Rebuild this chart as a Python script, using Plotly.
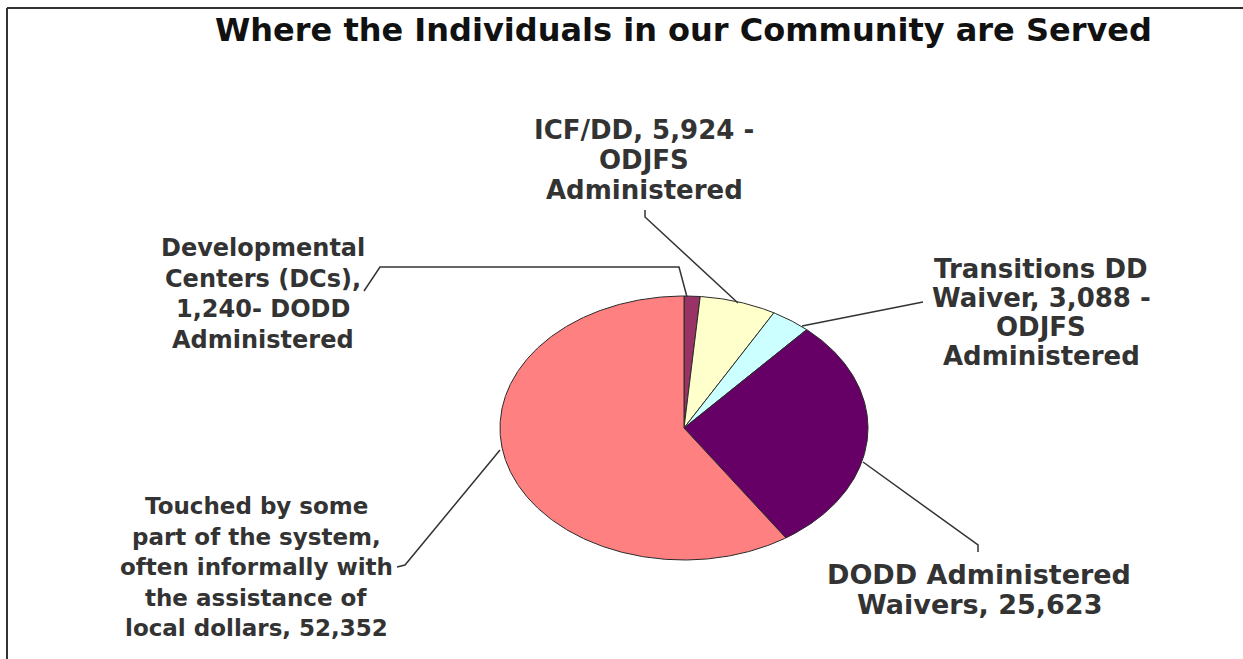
import numpy as np
import plotly.graph_objects as go

# ---------------- data ----------------
categories = [
    "Developmental Centers (DCs)",
    "ICF/DD",
    "Transitions DD Waiver",
    "DODD Administered Waivers",
    "Touched by some part of the system",
]
values = [1240, 5924, 3088, 25623, 52352]
colors = ["#993366", "#FFFFCC", "#CCFFFF", "#660066", "#FF8080"]

label_lines = [
    ["Developmental", "Centers (DCs),", "{v}- DODD", "Administered"],
    ["ICF/DD, {v} -", "ODJFS", "Administered"],
    ["Transitions DD", "Waiver, {v} -", "ODJFS", "Administered"],
    ["DODD Administered", "Waivers, {v}"],
    ["Touched by some", "part of the system,", "often informally with",
     "the assistance of", "local dollars, {v}"],
]
title_text = "Where the Individuals in our Community are Served"

# ---------------- layout (pixel-like coordinates) ----------------
W, H = 1243, 659
CX, CY, RX, RY = 684, 428, 184, 132      # elliptical pie

# label block: (center x, first line y, line step, font size)
label_layout = [
    (263, 248, 30.5, 24),
    (644, 130, 30.0, 26),
    (1041, 269, 29.0, 26),
    (979, 574, 30.0, 27),
    (256, 506, 30.5, 23),
]
leaders = [
    [(364, 291), (380, 267), (679, 267), (687, 297)],
    [(645, 210), (645, 217), (738, 303)],
    [(923, 302), (802, 326)],
    [(863, 462), (978, 545), (978, 552)],
    [(397, 567), (405, 565), (500, 450)],
]

fig = go.Figure()

total = float(sum(values))
start = 0.0
for name, v, c in zip(categories, values, colors):
    frac = v / total
    th = np.linspace(start, start + frac, max(8, int(frac * 720))) * 2 * np.pi
    xs = np.concatenate([[CX], CX + RX * np.sin(th), [CX]])
    ys = np.concatenate([[CY], CY - RY * np.cos(th), [CY]])
    fig.add_trace(go.Scatter(
        x=xs, y=ys, mode="lines", fill="toself", fillcolor=c,
        line=dict(color="#2a2a2a", width=1), name=name,
        hoverinfo="name", showlegend=False,
    ))
    start += frac

font_family = "DejaVu Sans"
annotations = []
for lines, v, (lx, ly, step, fs) in zip(label_lines, values, label_layout):
    for i, ln in enumerate(lines):
        annotations.append(dict(
            x=lx, y=ly + i * step, xref="x", yref="y",
            text="<b>" + ln.format(v=f"{v:,}") + "</b>",
            showarrow=False, xanchor="center", yanchor="middle",
            font=dict(family=font_family, size=fs, color="#333333"),
        ))
annotations.append(dict(
    x=683, y=30, xref="x", yref="y", text="<b>" + title_text + "</b>",
    showarrow=False, xanchor="center", yanchor="middle",
    font=dict(family=font_family, size=32, color="#111111"),
))

shapes = []
for pts in leaders:
    path = "M " + " L ".join(f"{x},{y}" for x, y in pts)
    shapes.append(dict(type="path", path=path, xref="x", yref="y",
                       line=dict(color="#333333", width=1.5)))
# frame lines
shapes.append(dict(type="line", x0=7, y0=8, x1=W, y1=8, xref="x", yref="y",
                   line=dict(color="#333333", width=2)))
shapes.append(dict(type="line", x0=7, y0=8, x1=7, y1=H, xref="x", yref="y",
                   line=dict(color="#333333", width=2)))

fig.update_layout(
    width=W, height=H,
    margin=dict(l=0, r=0, t=0, b=0),
    paper_bgcolor="white", plot_bgcolor="white",
    xaxis=dict(range=[0, W], visible=False, fixedrange=True),
    yaxis=dict(range=[H, 0], visible=False, fixedrange=True),
    annotations=annotations, shapes=shapes,
    showlegend=False,
)
fig.write_html("out.html")
